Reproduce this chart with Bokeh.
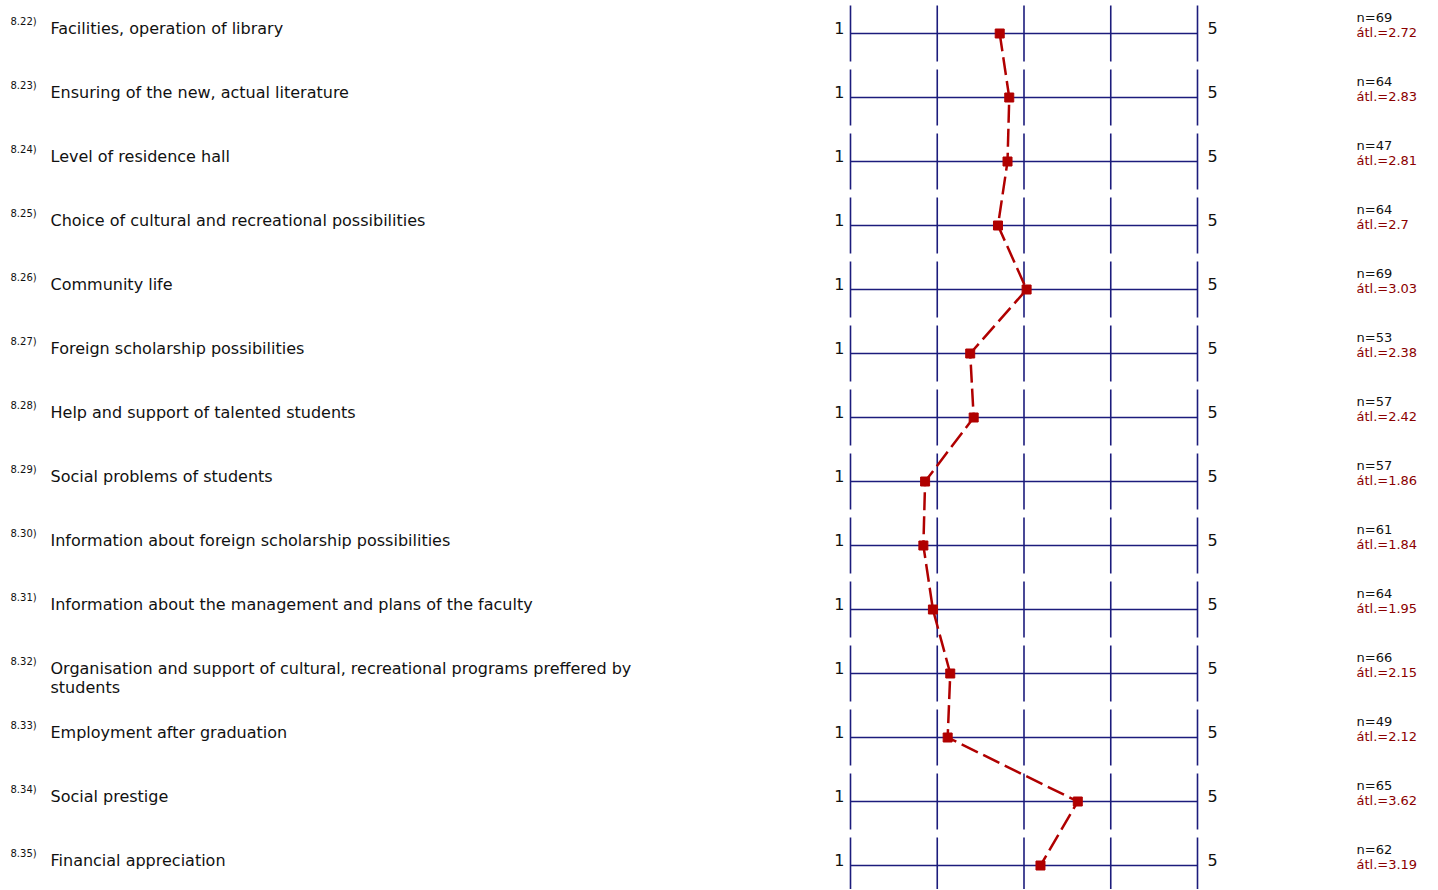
from bokeh.plotting import figure
from bokeh.models import Range1d, ColumnDataSource
from bokeh.core.properties import value
from bokeh.embed import file_html
from bokeh.resources import INLINE

codes = ["8.22)", "8.23)", "8.24)", "8.25)", "8.26)", "8.27)", "8.28)", "8.29)",
         "8.30)", "8.31)", "8.32)", "8.33)", "8.34)", "8.35)"]
labels = [
    "Facilities, operation of library",
    "Ensuring of the new, actual literature",
    "Level of residence hall",
    "Choice of cultural and recreational possibilities",
    "Community life",
    "Foreign scholarship possibilities",
    "Help and support of talented students",
    "Social problems of students",
    "Information about foreign scholarship possibilities",
    "Information about the management and plans of the faculty",
    "Organisation and support of cultural, recreational programs preffered by\nstudents",
    "Employment after graduation",
    "Social prestige",
    "Financial appreciation",
]
n_values = [69, 64, 47, 64, 69, 53, 57, 57, 61, 64, 66, 49, 65, 62]
means = [2.72, 2.83, 2.81, 2.7, 3.03, 2.38, 2.42, 1.86, 1.84, 1.95, 2.15, 2.12, 3.62, 3.19]
mean_labels = ["2.72", "2.83", "2.81", "2.7", "3.03", "2.38", "2.42", "1.86", "1.84",
               "1.95", "2.15", "2.12", "3.62", "3.19"]
scale_ticks = [1, 2, 3, 4, 5]
scale_min_label = "1"
scale_max_label = "5"

W, H = 1430, 889
PX_UNIT = 86.75      # pixels per scale unit
X0_PX = 850          # pixel position of scale value 1
ROW_PX = 64
Y0_PX = 33

x_start = 1 - X0_PX / PX_UNIT
x_end = x_start + W / PX_UNIT
y_top = -Y0_PX / ROW_PX
y_bottom = (H - Y0_PX) / ROW_PX

p = figure(width=W, height=H, output_backend="svg", toolbar_location=None,
           x_range=Range1d(x_start, x_end), y_range=Range1d(y_bottom, y_top),
           min_border=0)
p.axis.visible = False
p.grid.visible = False
p.outline_line_color = None
p.background_fill_color = "white"
p.border_fill_color = "white"

rows = list(range(len(labels)))
navy = "#1c1c7c"
FONT = value("DejaVu Sans")
SHIFT = -6

# horizontal scale lines
p.segment(x0=[scale_ticks[0]] * len(rows), x1=[scale_ticks[-1]] * len(rows),
          y0=rows, y1=rows, line_color=navy, line_width=1.3)
# vertical tick lines
vx, vy0, vy1 = [], [], []
for r in rows:
    for t in scale_ticks:
        vx.append(t)
        vy0.append(r - 28 / ROW_PX)
        vy1.append(r + 28 / ROW_PX)
p.segment(x0=vx, x1=vx, y0=vy0, y1=vy1, line_color=navy, line_width=1.6)

# mean line + markers
p.line(means, rows, line_color="#b00000", line_width=2.5, line_dash="18 6")
p.scatter(means, rows, marker="square", size=9, fill_color="#b00000",
          line_color="#b00000")

# scale end labels
p.text(x=[scale_ticks[0]] * len(rows), y=rows, text=[scale_min_label] * len(rows),
       x_offset=-6, y_offset=0 + SHIFT, text_align="right", text_baseline="alphabetic",
       text_font=FONT, text_font_size="16px", text_color="#111111")
p.text(x=[scale_ticks[-1]] * len(rows), y=rows, text=[scale_max_label] * len(rows),
       x_offset=10, y_offset=0 + SHIFT, text_align="left", text_baseline="alphabetic",
       text_font=FONT, text_font_size="16px", text_color="#111111")

# item codes
p.text(x=[scale_ticks[0]] * len(rows), y=rows, text=codes,
       x_offset=10 - X0_PX, y_offset=-6 + SHIFT, text_align="left", text_baseline="alphabetic",
       text_font=FONT, text_font_size="10px", text_color="#111111")

# item labels (split multi-line)
lx, ly, lt, lo = [], [], [], []
for r, lab in zip(rows, labels):
    for k, line in enumerate(lab.split("\n")):
        lx.append(scale_ticks[0]); ly.append(r); lt.append(line); lo.append(1 + SHIFT + 19 * k)
src = ColumnDataSource(dict(x=lx, y=ly, t=lt, o=lo))
p.text(x="x", y="y", text="t", y_offset="o", source=src, x_offset=50 - X0_PX,
       text_align="left", text_baseline="alphabetic",
       text_font=FONT, text_font_size="16px", text_color="#111111")

# n and mean
p.text(x=[scale_ticks[-1]] * len(rows), y=rows, text=[f"n={n}" for n in n_values],
       x_offset=159, y_offset=-10 + SHIFT, text_align="left", text_baseline="alphabetic",
       text_font=FONT, text_font_size="13px", text_color="#111111")
p.text(x=[scale_ticks[-1]] * len(rows), y=rows, text=[f"átl.={m}" for m in mean_labels],
       x_offset=159, y_offset=5 + SHIFT, text_align="left", text_baseline="alphabetic",
       text_font=FONT, text_font_size="13px", text_color="#8b0000")

open("out.html", "w").write(file_html(p, INLINE))
